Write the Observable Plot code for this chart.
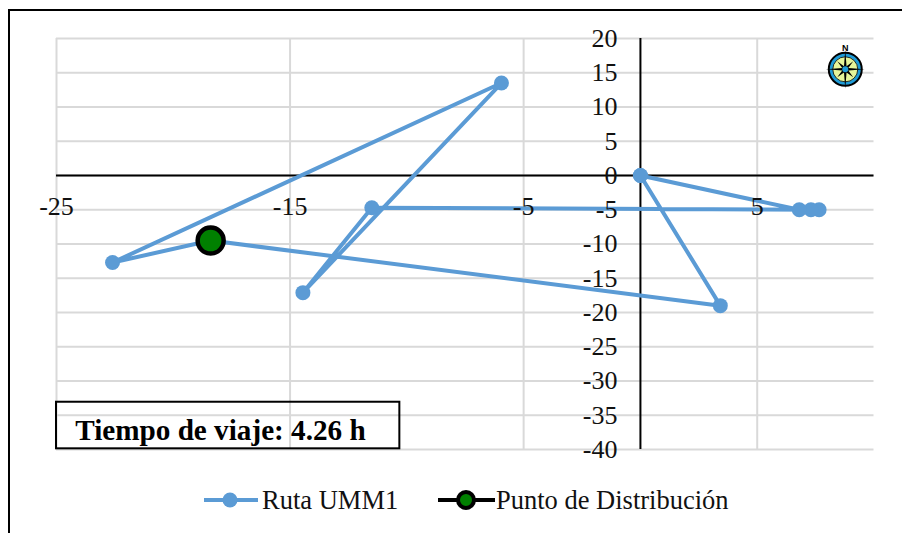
<!DOCTYPE html>
<html><head><meta charset="utf-8">
<script src="https://cdn.jsdelivr.net/npm/d3@7"></script>
<script src="https://cdn.jsdelivr.net/npm/@observablehq/plot@0.6"></script>
<style>
html,body{margin:0;padding:0;background:#fff;overflow:hidden}
#frame{position:absolute;left:8px;top:9px;width:894px;height:524px;border-top:2px solid #000;border-left:2px solid #000;box-sizing:border-box}
#chart{position:absolute;left:0;top:0}
#legend{position:absolute;left:0;top:480px;width:902px;height:53px;font:26.5px "Liberation Serif",serif;color:#111}
#legend span,#legend svg{position:absolute}
</style></head><body>
<div id="frame"></div><div id="chart"></div>
<div id="legend">
<svg style="left:203px;top:0" width="60" height="40"><line x1="1" x2="55" y1="20" y2="20" stroke="#5b9bd5" stroke-width="4"/><circle cx="27" cy="20" r="7.5" fill="#5b9bd5"/></svg>
<span style="left:262px;top:5px">Ruta UMM1</span>
<svg style="left:437px;top:0" width="60" height="40"><line x1="1" x2="58" y1="20" y2="20" stroke="#000" stroke-width="4"/><circle cx="29" cy="20" r="8" fill="#008000" stroke="#000" stroke-width="4"/></svg>
<span style="left:496px;top:5px">Punto de Distribución</span>
</div>
<script>
const routeX = [0, 3.42, -18.4, -22.6, -5.95, -14.45, -11.5, 7.65, 7.3, 6.8, 0];
const routeY = [0, -19, -9.5, -12.7, 13.5, -17.1, -4.7, -5, -5, -5, 0];
const depotX = [-18.4];
const depotY = [-9.5];
const xTicks = [-25, -15, -5, 5];
const yTicks = d3.range(-40, 21, 5);
const xGrid = [-25, -15, -5, 5];
const compassX = 8.77, compassY = 15.5;
const route = routeX.map((x, i) => ({x, y: routeY[i]}));
const depot = depotX.map((x, i) => ({x, y: depotY[i]}));
const star8 = {draw(ctx, size){
  const R = Math.sqrt(size), r = R * 0.17;
  for (let i = 0; i < 16; i++) {
    const a = i * Math.PI / 8, q = i % 2 ? r : (i % 4 ? R * 0.58 : R);
    const px = q * Math.sin(a), py = -q * Math.cos(a);
    i ? ctx.lineTo(px, py) : ctx.moveTo(px, py);
  }
  ctx.closePath();
}};
const plot = Plot.plot({
  width: 902, height: 533,
  marginLeft: 0, marginRight: 0, marginTop: 0, marginBottom: 0,
  style: {background: "transparent", fontFamily: "Liberation Serif, serif", overflow: "visible"},
  x: {type: "linear", domain: [-25, 10], range: [56, 873.5], axis: null},
  y: {type: "linear", domain: [-40, 20], range: [449, 38], axis: null},
  marks: [
    Plot.ruleY(yTicks, {x1: -25, x2: 10, y: d => d, stroke: "#d9d9d9", strokeWidth: 2}),
    Plot.ruleX(xGrid, {y1: -40, y2: 20, x: d => d, stroke: "#d9d9d9", strokeWidth: 2}),
    Plot.ruleY([0], {x1: -25, x2: 10, stroke: "#000", strokeWidth: 2}),
    Plot.ruleX([0], {y1: -40, y2: 20, stroke: "#000", strokeWidth: 2}),
    Plot.line(route, {x: "x", y: "y", stroke: "#5b9bd5", strokeWidth: 4, curve: "linear"}),
    Plot.dot(route, {x: "x", y: "y", r: 7.5, fill: "#5b9bd5"}),
    Plot.dot(depot, {x: "x", y: "y", r: 13, fill: "#008000", stroke: "#000", strokeWidth: 4.5}),
    Plot.text(xTicks, {x: d => d, y: 0, text: d => String(d), dy: 31, fontSize: 26, fill: "#111"}),
    Plot.text(yTicks, {x: 0, y: d => d, text: d => String(d), dx: -23, textAnchor: "end", fontSize: 26, fill: "#111"}),
    Plot.rect([{x1: -25, x2: -10.3, y1: -33.1, y2: -39.9}], {x1: "x1", x2: "x2", y1: "y1", y2: "y2", fill: "none", stroke: "#000", strokeWidth: 2}),
    Plot.text(["Tiempo de viaje: 4.26 h"], {x: -24.2, y: -37.3, text: d => d, textAnchor: "start", fontSize: 29.2, fontWeight: "bold", fill: "#000"}),
    Plot.dot([0], {x: compassX, y: compassY, r: 16.5, fill: "#1e9bd7", stroke: "#000", strokeWidth: 2}),
    Plot.dot([0], {x: compassX, y: compassY, r: 12.5, fill: "#e6f59a", stroke: "#000", strokeWidth: 0.8}),
    Plot.dot([0], {x: compassX, y: compassY, symbol: star8, r: 11, fill: "#000", stroke: "none"}),
    Plot.dot([0], {x: compassX, y: compassY, r: 3, fill: "#1e9bd7"}),
    Plot.text(["N"], {x: compassX, y: compassY, dy: -21, text: d => d, fontFamily: "Liberation Sans, sans-serif", fontWeight: "bold", fontSize: 9, fill: "#000"})
  ]
});
document.getElementById("chart").append(plot);
</script></body></html>
